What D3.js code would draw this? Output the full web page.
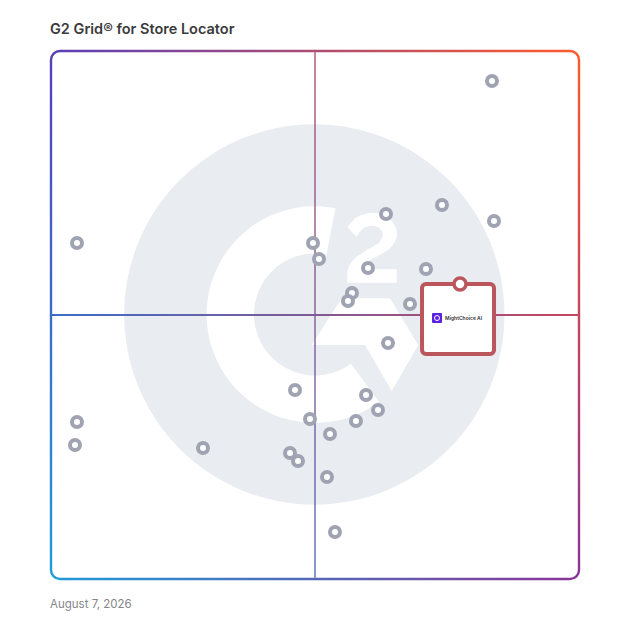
<!DOCTYPE html>
<html>
<head>
<meta charset="utf-8">
<script src="https://cdn.jsdelivr.net/npm/d3@7"></script>
<style>
  html, body { margin: 0; padding: 0; background: #fff; }
  svg { display: block; }
  text { font-family: Inter, "Noto Sans", sans-serif; }
</style>
</head>
<body>
<div id="chart"></div>
<script>
// both axes 0-100
const vendors = ["a","b","c","d","e","f","g","h","i","j","k","l","m","n","o","p","q","r","s","t","u","v","w","x","y","z"];
const satisfaction = [83.65,74.14,63.5,84.03,4.75,49.62,50.76,60.08,71.1,57.03,56.27,68.06,63.88,46.2,59.7,61.98,49.05,57.79,52.85,28.71,4.75,4.37,45.25,46.77,52.28,53.8];
const marketPresence = [94.49,70.91,69.2,67.87,63.69,63.69,60.65,58.94,58.75,54.18,52.66,52.09,44.68,35.74,34.79,31.94,30.23,29.85,27.38,24.71,29.66,25.29,23.76,22.24,19.2,8.75];
const highlightX = [77.57];
const highlightY = [55.89];
const highlightName = ["MightChoice AI"];

// watermark outline, chart units
const twoOuter = [[56.15,66.67],[57.92,68.57],[60.77,69.45],[63.62,68.82],[65.4,66.48],[65.53,64.89],[64.26,62.67],[61.09,60.77],[59.19,59.51],[58.87,58.68]];
const twoBase = [[65.53,58.68],[65.53,56.15],[56.15,56.15]];
const twoInner = [[56.15,58.24],[56.97,60.14],[59.82,62.36],[62.36,63.94],[62.86,65.53],[62.04,66.67],[60.77,66.98],[59.19,66.48],[57.92,64.89]];
const arrow = [[55.07,53.17],[64.26,53.17],[69.64,44.3],[64.58,35.55],[59.51,44.3],[49.37,44.3]];

const W = 628, H = 628;
const left = 52, right = 578, top_ = 52, bottom = 578;

let x = d3.scaleLinear().domain([0, 100]).range([left, right]);
let y = d3.scaleLinear().domain([0, 100]).range([bottom, top_]);
let midX = x(50), midY = y(50);

let svg = d3.select("#chart").append("svg")
    .attr("width", W)
    .attr("height", H);

let defs = svg.append("defs");

function hGrad(id, c1, c2) {
    let g = defs.append("linearGradient").attr("id", id)
        .attr("gradientUnits", "userSpaceOnUse")
        .attr("x1", left).attr("x2", right).attr("y1", 0).attr("y2", 0);
    g.append("stop").attr("offset", 0).attr("stop-color", c1);
    g.append("stop").attr("offset", 1).attr("stop-color", c2);
}
hGrad("gradTop", "#5a3fb8", "#ff5a2b");
hGrad("gradBottom", "#1f9bd8", "#8a3596");

let fade = defs.append("linearGradient").attr("id", "fade")
    .attr("gradientUnits", "userSpaceOnUse")
    .attr("x1", 0).attr("x2", 0).attr("y1", top_).attr("y2", bottom);
fade.append("stop").attr("offset", 0).attr("stop-color", "#000");
fade.append("stop").attr("offset", 1).attr("stop-color", "#fff");

defs.append("mask").attr("id", "fadeMask")
    .attr("maskUnits", "userSpaceOnUse")
    .attr("x", 0).attr("y", 0).attr("width", W).attr("height", H)
  .append("rect")
    .attr("width", W).attr("height", H)
    .attr("fill", "url(#fade)");

let frameMask = defs.append("mask").attr("id", "frameMask")
    .attr("maskUnits", "userSpaceOnUse")
    .attr("x", 0).attr("y", 0).attr("width", W).attr("height", H);
frameMask.append("rect")
    .attr("x", left - 1).attr("y", top_ - 1)
    .attr("width", right - left + 2).attr("height", bottom - top_ + 2)
    .attr("rx", 9)
    .attr("fill", "none").attr("stroke", "#fff").attr("stroke-width", 2.4);
frameMask.append("line")
    .attr("x1", left).attr("x2", right).attr("y1", midY).attr("y2", midY)
    .attr("stroke", "#fff").attr("stroke-width", 2);
frameMask.append("line")
    .attr("x1", midX).attr("x2", midX).attr("y1", top_).attr("y2", midY - 1)
    .attr("stroke", "#b0b0b0").attr("stroke-width", 2);
frameMask.append("line")
    .attr("x1", midX).attr("x2", midX).attr("y1", midY + 1).attr("y2", bottom)
    .attr("stroke", "#b0b0b0").attr("stroke-width", 2);

// title and date
svg.append("text")
    .attr("x", 50).attr("y", 34)
    .attr("font-size", 14.5).attr("font-weight", 600)
    .attr("fill", "#3a3a3c")
    .text("G2 Grid\u00AE for Store Locator");

svg.append("text")
    .attr("x", 50).attr("y", 608)
    .attr("font-size", 11.5)
    .attr("fill", "#85858a")
    .text("August 7, 2026");

// G2 watermark
let logo = svg.append("g");
logo.append("circle")
    .attr("cx", midX - 0.7).attr("cy", midY - 0.5)
    .attr("r", x(36.15) - x(0))
    .attr("fill", "#e9ecf0");

let rOuter = x(20.6) - x(0), rInner = x(11.6) - x(0);
logo.append("path")
    .attr("transform", `translate(${midX},${midY - 0.5})`)
    .attr("fill", "#fff")
    .attr("d", d3.arc()
        .innerRadius(rInner).outerRadius(rOuter)
        .startAngle(2.51).endAngle(2 * Math.PI + 0.19)());

let toPts = (p) => p.map((d) => [x(d[0]), y(d[1])]);
let smooth = d3.line().curve(d3.curveCatmullRom.alpha(0.5));
let straight = d3.line();
logo.append("path").attr("fill", "#fff")
    .attr("d", smooth(toPts(twoOuter))
        + straight(toPts(twoBase)).replace("M", "L")
        + smooth(toPts(twoInner)).replace("M", "L") + "Z");
logo.append("path").attr("fill", "#fff")
    .attr("d", d3.line().curve(d3.curveLinearClosed)(toPts(arrow)));

// gradient frame and cross
let frame = svg.append("g").attr("mask", "url(#frameMask)");
frame.append("rect").attr("width", W).attr("height", H).attr("fill", "url(#gradTop)");
frame.append("rect").attr("width", W).attr("height", H).attr("fill", "url(#gradBottom)")
    .attr("mask", "url(#fadeMask)");

// vendors
svg.append("g").selectAll("circle")
    .data(vendors)
    .join("circle")
    .attr("cx", (d, i) => x(satisfaction[i]))
    .attr("cy", (d, i) => y(marketPresence[i]))
    .attr("r", 5)
    .attr("fill", "#fff")
    .attr("stroke", "#a0a4b2")
    .attr("stroke-width", 4);

// highlighted vendor
let hx = x(highlightX[0]), hy = y(highlightY[0]);
let boxW = 72, boxH = 70;
svg.append("rect")
    .attr("x", hx - 38).attr("y", hy)
    .attr("width", boxW).attr("height", boxH)
    .attr("rx", 4)
    .attr("fill", "#fff")
    .attr("stroke", "#bb575c")
    .attr("stroke-width", 4);
svg.append("circle")
    .attr("cx", hx).attr("cy", hy)
    .attr("r", 6)
    .attr("fill", "#fff")
    .attr("stroke", "#bb575c")
    .attr("stroke-width", 3.5);
svg.append("rect")
    .attr("x", hx - 28).attr("y", hy + 29)
    .attr("width", 10).attr("height", 10)
    .attr("rx", 1)
    .attr("fill", "#5a22e0");
svg.append("circle")
    .attr("cx", hx - 23).attr("cy", hy + 34)
    .attr("r", 2.5)
    .attr("fill", "none").attr("stroke", "#fff").attr("stroke-width", 1);
svg.append("text")
    .attr("x", hx - 15).attr("y", hy + 36)
    .attr("font-size", 5).attr("font-weight", 600)
    .attr("fill", "#333")
    .text(highlightName[0]);
</script>
</body>
</html>
